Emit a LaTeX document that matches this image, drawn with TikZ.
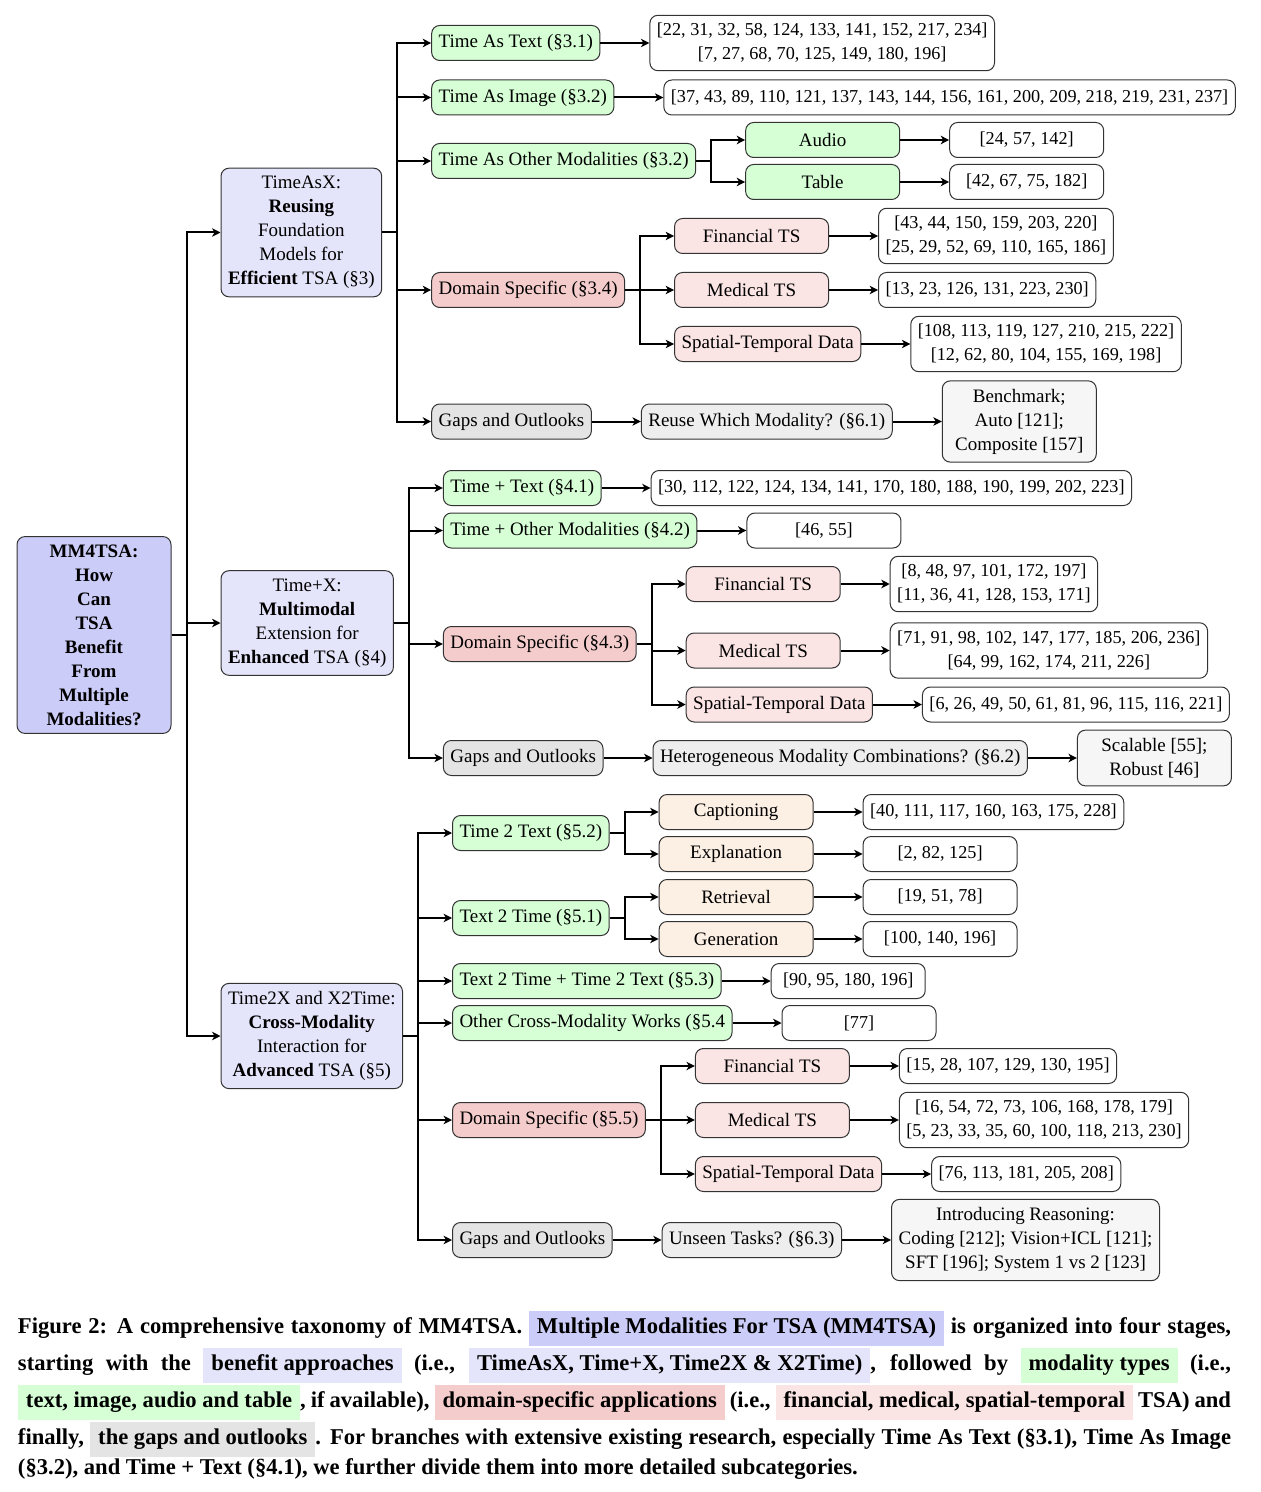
\documentclass[tikz,border=0pt]{standalone}
\usepackage{fontspec}
\setmainfont{Liberation Serif}
\usepackage{tikz}
\usetikzlibrary{shapes,arrows.meta,positioning}

\definecolor{rootc}{RGB}{204,204,248}
\definecolor{stagec}{RGB}{228,228,250}
\definecolor{modc}{RGB}{214,255,214}
\definecolor{domc}{RGB}{245,204,204}
\definecolor{subdomc}{RGB}{250,228,228}
\definecolor{taskc}{RGB}{252,239,227}
\definecolor{gapc}{RGB}{228,228,228}
\definecolor{quesc}{RGB}{238,238,238}
\definecolor{ansc}{RGB}{246,246,246}

\newcommand{\treefont}{\fontsize{9.5}{12}\selectfont}
\newcommand{\reffont}{\fontsize{9.1}{12}\selectfont}
\newcommand{\capfont}{\fontsize{11.3}{12.5}\selectfont\bfseries}
\newcommand{\capbox}[2]{\colorbox{#1}{\strut\hspace{1.5pt}#2\hspace{1.5pt}}}

\begin{document}
\begin{tikzpicture}[->, >={Stealth[length=4.2pt, width=4.2pt, inset=1.2pt]}, line width=1pt, x=0.5pt, y=-0.5pt, node distance=24.5pt,
	box/.style={rounded corners=4pt, draw=black!80, line width=0.5pt, minimum width=77pt,
		minimum height=17.5pt, inner xsep=3.5pt, inner ysep=4pt, align=center, font=\treefont},
	stagebox/.style={box, fill=stagec},
	modbox/.style={box, fill=modc},
	dombox/.style={box, fill=domc},
	subbox/.style={box, fill=subdomc},
	taskbox/.style={box, fill=taskc},
	gapbox/.style={box, fill=gapc},
	quesbox/.style={box, fill=quesc},
	ansbox/.style={box, fill=ansc},
	refbox/.style={box, fill=white, font=\reffont},
	elbow/.style={to path={-- ++(7.5pt,0) |- (\tikztotarget)}}]
	\useasboundingbox (0,0) rectangle (1260,1492);

	\node[box, fill=rootc, font=\treefont\bfseries] (root) at (94,635) {MM4TSA:\\How\\Can\\TSA\\Benefit\\From\\Multiple\\Modalities?};

	\node[stagebox, right=of root, yshift=201.25pt] (tax) {TimeAsX:\\\textbf{Reusing}\\Foundation\\Models for\\\textbf{Efficient} TSA (§3)};
	\node[stagebox, right=of root, yshift=6pt] (tpx) {Time+X:\\\textbf{Multimodal}\\Extension for\\\textbf{Enhanced} TSA (§4)};
	\node[stagebox, right=of root, yshift=-200.5pt] (t2x) {Time2X and X2Time:\\\textbf{Cross-Modality}\\Interaction for\\\textbf{Advanced} TSA (§5)};

	\node[modbox, right=of tax, yshift=94.75pt] (tat) {Time As Text (§3.1)};
	\node[refbox, right=of tat] (tatref) {[22, 31, 32, 58, 124, 133, 141, 152, 217, 234]\\{}[7, 27, 68, 70, 125, 149, 180, 196]};
	\node[modbox, right=of tax, yshift=67.5pt] (tai) {Time As Image (§3.2)};
	\node[refbox, right=of tai] (tairef) {[37, 43, 89, 110, 121, 137, 143, 144, 156, 161, 200, 209, 218, 219, 231, 237]};
	\node[modbox, right=of tax, yshift=35.75pt] (tao) {Time As Other Modalities (§3.2)};
	\node[modbox, right=of tao, yshift=10.5pt] (audio) {Audio};
	\node[refbox, right=of audio] (audioref) {[24, 57, 142]};
	\node[modbox, right=of tao, yshift=-10.5pt] (table) {Table};
	\node[refbox, right=of table] (tableref) {[42, 67, 75, 182]};
	\node[dombox, right=of tax, yshift=-28.75pt] (tad) {Domain Specific (§3.4)};
	\node[subbox, right=of tad, yshift=27pt] (tadfin) {Financial TS};
	\node[refbox, right=of tadfin] (tadfinref) {[43, 44, 150, 159, 203, 220]\\{}[25, 29, 52, 69, 110, 165, 186]};
	\node[subbox, right=of tad] (tadmed) {Medical TS};
	\node[refbox, right=of tadmed] (tadmedref) {[13, 23, 126, 131, 223, 230]};
	\node[subbox, right=of tad, yshift=-27pt] (tadspa) {Spatial-Temporal Data};
	\node[refbox, right=of tadspa] (tadsparef) {[108, 113, 119, 127, 210, 215, 222]\\{}[12, 62, 80, 104, 155, 169, 198]};
	\node[gapbox, right=of tax, yshift=-94.5pt] (tag) {Gaps and Outlooks};
	\node[quesbox, right=of tag] (tagq) {Reuse Which Modality? (§6.1)};
	\node[ansbox, right=of tagq] (taga) {Benchmark;\\Auto [121];\\Composite [157]};

	\node[modbox, right=of tpx, yshift=67.5pt] (tpt) {Time + Text (§4.1)};
	\node[refbox, right=of tpt] (tptref) {[30, 112, 122, 124, 134, 141, 170, 180, 188, 190, 199, 202, 223]};
	\node[modbox, right=of tpx, yshift=46.25pt] (tpo) {Time + Other Modalities (§4.2)};
	\node[refbox, right=of tpo] (tporef) {[46, 55]};
	\node[dombox, right=of tpx, yshift=-10.5pt] (tpd) {Domain Specific (§4.3)};
	\node[subbox, right=of tpd, yshift=30pt] (tpdfin) {Financial TS};
	\node[refbox, right=of tpdfin] (tpdfinref) {[8, 48, 97, 101, 172, 197]\\{}[11, 36, 41, 128, 153, 171]};
	\node[subbox, right=of tpd, yshift=-3.25pt] (tpdmed) {Medical TS};
	\node[refbox, right=of tpdmed] (tpdmedref) {[71, 91, 98, 102, 147, 177, 185, 206, 236]\\{}[64, 99, 162, 174, 211, 226]};
	\node[subbox, right=of tpd, yshift=-30.25pt] (tpdspa) {Spatial-Temporal Data};
	\node[refbox, right=of tpdspa] (tpdsparef) {[6, 26, 49, 50, 61, 81, 96, 115, 116, 221]};
	\node[gapbox, right=of tpx, yshift=-67.5pt] (tpg) {Gaps and Outlooks};
	\node[quesbox, right=of tpg] (tpgq) {Heterogeneous Modality Combinations? (§6.2)};
	\node[ansbox, right=of tpgq] (tpga) {Scalable [55];\\Robust [46]};

	\node[modbox, right=of t2x, yshift=101.5pt] (t2t) {Time 2 Text (§5.2)};
	\node[taskbox, right=of t2t, yshift=10.5pt] (capt) {Captioning};
	\node[refbox, right=of capt] (captref) {[40, 111, 117, 160, 163, 175, 228]};
	\node[taskbox, right=of t2t, yshift=-10.5pt] (expl) {Explanation};
	\node[refbox, right=of expl] (explref) {[2, 82, 125]};
	\node[modbox, right=of t2x, yshift=59pt] (x2t) {Text 2 Time (§5.1)};
	\node[taskbox, right=of x2t, yshift=10.5pt] (retr) {Retrieval};
	\node[refbox, right=of retr] (retrref) {[19, 51, 78]};
	\node[taskbox, right=of x2t, yshift=-10.5pt] (gene) {Generation};
	\node[refbox, right=of gene] (generef) {[100, 140, 196]};
	\node[modbox, right=of t2x, yshift=27.5pt] (both) {Text 2 Time + Time 2 Text (§5.3)};
	\node[refbox, right=of both] (bothref) {[90, 95, 180, 196]};
	\node[modbox, right=of t2x, yshift=6.5pt] (xother) {Other Cross-Modality Works (§5.4};
	\node[refbox, right=of xother] (xotherref) {[77]};
	\node[dombox, right=of t2x, yshift=-42pt] (t2d) {Domain Specific (§5.5)};
	\node[subbox, right=of t2d, yshift=27pt] (t2dfin) {Financial TS};
	\node[refbox, right=of t2dfin] (t2dfinref) {[15, 28, 107, 129, 130, 195]};
	\node[subbox, right=of t2d] (t2dmed) {Medical TS};
	\node[refbox, right=of t2dmed] (t2dmedref) {[16, 54, 72, 73, 106, 168, 178, 179]\\{}[5, 23, 33, 35, 60, 100, 118, 213, 230]};
	\node[subbox, right=of t2d, yshift=-27pt] (t2dspa) {Spatial-Temporal Data};
	\node[refbox, right=of t2dspa] (t2dsparef) {[76, 113, 181, 205, 208]};
	\node[gapbox, right=of t2x, yshift=-102pt] (t2g) {Gaps and Outlooks};
	\node[quesbox, right=of t2g] (t2gq) {Unseen Tasks? (§6.3)};
	\node[ansbox, right=of t2gq] (t2ga) {Introducing Reasoning:\\Coding [212]; Vision+ICL [121];\\SFT [196]; System 1 vs 2 [123]};

	\path (root.east) edge[elbow] (tax.west) edge[elbow] (tpx.west) edge[elbow] (t2x.west);
	\path (tax.east) edge[elbow] (tat.west) edge[elbow] (tai.west) edge[elbow] (tao.west)
		edge[elbow] (tad.west) edge[elbow] (tag.west);
	\path (tpx.east) edge[elbow] (tpt.west) edge[elbow] (tpo.west) edge[elbow] (tpd.west) edge[elbow] (tpg.west);
	\path (t2x.east) edge[elbow] (t2t.west) edge[elbow] (x2t.west) edge[elbow] (both.west)
		edge[elbow] (xother.west) edge[elbow] (t2d.west) edge[elbow] (t2g.west);
	\path (tao.east) edge[elbow] (audio.west) edge[elbow] (table.west);
	\path (tad.east) edge[elbow] (tadfin.west) edge[elbow] (tadmed.west) edge[elbow] (tadspa.west);
	\path (tpd.east) edge[elbow] (tpdfin.west) edge[elbow] (tpdmed.west) edge[elbow] (tpdspa.west);
	\path (t2t.east) edge[elbow] (capt.west) edge[elbow] (expl.west);
	\path (x2t.east) edge[elbow] (retr.west) edge[elbow] (gene.west);
	\path (t2d.east) edge[elbow] (t2dfin.west) edge[elbow] (t2dmed.west) edge[elbow] (t2dspa.west);

	\path (tat) edge (tatref) (tai) edge (tairef) (audio) edge (audioref) (table) edge (tableref)
		(tadfin) edge (tadfinref) (tadmed) edge (tadmedref) (tadspa) edge (tadsparef)
		(tag) edge (tagq) (tagq) edge (taga);
	\path (tpt) edge (tptref) (tpo) edge (tporef) (tpdfin) edge (tpdfinref) (tpdmed) edge (tpdmedref)
		(tpdspa) edge (tpdsparef) (tpg) edge (tpgq) (tpgq) edge (tpga);
	\path (capt) edge (captref) (expl) edge (explref) (retr) edge (retrref) (gene) edge (generef)
		(both) edge (bothref) (xother) edge (xotherref) (t2dfin) edge (t2dfinref) (t2dmed) edge (t2dmedref)
		(t2dspa) edge (t2dsparef) (t2g) edge (t2gq) (t2gq) edge (t2ga);

	\node[anchor=north west, text width=606.5pt, align=justify, inner sep=0pt, font=\capfont] (caption) at (17,1310)
		{\setlength{\fboxsep}{2.5pt}\noindent Figure 2: A comprehensive taxonomy of MM4TSA. \capbox{rootc}{Multiple Modalities For TSA (MM4TSA)} is organized into four stages,\linebreak
		starting with the \capbox{stagec}{benefit approaches} (i.e., \capbox{stagec}{TimeAsX, Time+X, Time2X \& X2Time)}, followed by \capbox{modc}{modality types} (i.e.,\linebreak
		\capbox{modc}{text, image, audio and table}, if available), \capbox{domc}{domain-specific applications} (i.e., \capbox{subdomc}{financial, medical, spatial-temporal} TSA) and\linebreak
		finally, \capbox{gapc}{the gaps and outlooks}. For branches with extensive existing research, especially Time As Text (§3.1), Time As Image\linebreak
		(§3.2), and Time + Text (§4.1), we further divide them into more detailed subcategories.};
\end{tikzpicture}
\end{document}
